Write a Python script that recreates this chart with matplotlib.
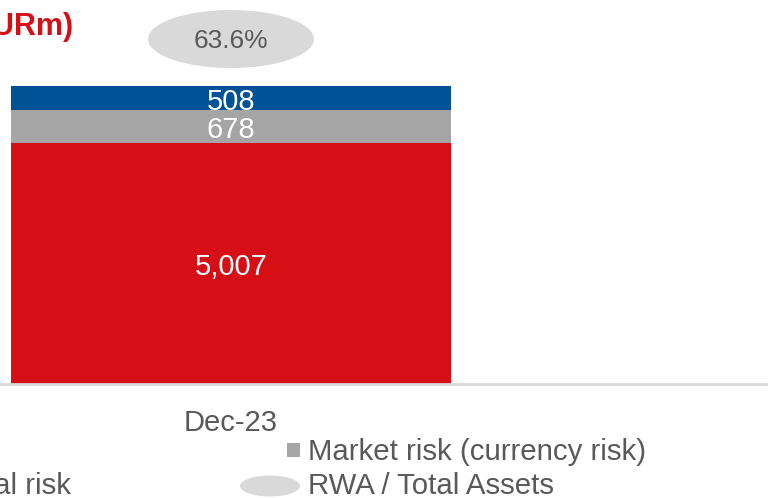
import matplotlib
matplotlib.use("Agg")
import matplotlib.pyplot as plt
from matplotlib.patches import Ellipse, Rectangle

plt.rcParams['font.family'] = ['Liberation Sans', 'DejaVu Sans']

# Data
periods = ["Dec-23"]
credit_risk = [5007]
market_risk = [678]
operational_risk = [508]
rwa_ratio = [63.6]  # RWA / Total Assets, %

RED = "#d50f15"
GREY = "#a5a5a5"
BLUE = "#005297"
TEXT = "#595959"
PALE = "#d9d9d9"

W, H = 768, 498
fig = plt.figure(figsize=(W / 100, H / 100), dpi=100)

# axes extend slightly past the left edge of the canvas
ax = fig.add_axes([0, 1 - 384 / H, 1, 384 / H])
ax.set_xlim(-0.525, 1.2205)
ax.set_ylim(0, 7980)

x = list(range(len(periods)))
bw = 1.0
b1 = ax.bar(x, credit_risk, width=bw, color=RED, zorder=2)
b2 = ax.bar(x, market_risk, width=bw, bottom=credit_risk, color=GREY, zorder=2)
bottom3 = [a + b for a, b in zip(credit_risk, market_risk)]
b3 = ax.bar(x, operational_risk, width=bw, bottom=bottom3, color=BLUE, zorder=2)

for vals, bots in ((credit_risk, [0] * len(x)),
                   (market_risk, credit_risk),
                   (operational_risk, bottom3)):
    for xi, v, b in zip(x, vals, bots):
        ax.annotate(f"{v:,}", (xi, b + v / 2), xytext=(0, -2.5),
                    textcoords="offset points", ha="center", va="center",
                    color="white", fontsize=21, zorder=3)

for s in ("top", "right", "left"):
    ax.spines[s].set_visible(False)
ax.spines["bottom"].set_color(PALE)
ax.spines["bottom"].set_linewidth(2)
ax.set_yticks([])
ax.set_xticks(x)
ax.set_xticklabels(periods, fontsize=21, color=TEXT)
ax.tick_params(axis="x", length=0, pad=18)

# RWA / Total Assets on a secondary scale, shown as an ellipse marker
ax2 = ax.twinx()
ax2.set_ylim(0, 70.8)
ax2.axis("off")
for xi, r in zip(x, rwa_ratio):
    ax2.add_patch(Ellipse((xi, r), width=0.377, height=10.7,
                          facecolor=PALE, edgecolor="none", zorder=2))
    ax2.annotate(f"{r:.1f}%", (xi, r), xytext=(0, -1.5),
                 textcoords="offset points", ha="center", va="center",
                 color=TEXT, fontsize=19, zorder=3)

# Title
fig.text(73 / W, 1 - 27 / H, "Risk Weighted Assets (EURm)", ha="right",
         va="center", color=RED, fontsize=22, fontweight="bold")

# Legend
def px(xp, yp):
    return xp / W, 1 - yp / H

fig.patches.append(Rectangle(px(287, 457), 13 / W, 14 / H, transform=fig.transFigure,
                             facecolor=GREY, edgecolor="none"))
fig.text(*px(308, 452), "Market risk (currency risk)", ha="left", va="center",
         color=TEXT, fontsize=21.2)
fig.patches.append(Ellipse(px(270, 486), 60 / W, 21 / H, transform=fig.transFigure,
                           facecolor=PALE, edgecolor="none"))
fig.text(*px(308, 486), "RWA / Total Assets", ha="left", va="center",
         color=TEXT, fontsize=21.2)
fig.text(*px(71, 486), "Operational risk", ha="right", va="center",
         color=TEXT, fontsize=21.2)

fig.savefig("out.png", dpi=100)
